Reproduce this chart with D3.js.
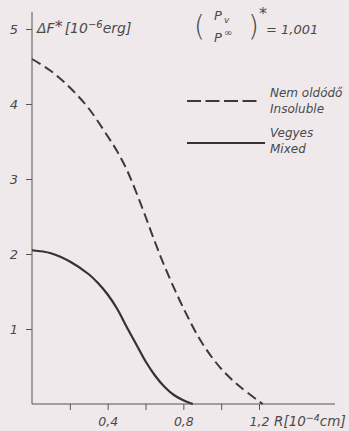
<!DOCTYPE html>
<html><head><meta charset="utf-8">
<script src="https://cdn.jsdelivr.net/npm/d3@7"></script>
<style>
html,body{margin:0;padding:0;background:#efe9ec;}
svg{display:block;}
text{font-family:"DejaVu Sans","Liberation Sans",sans-serif;font-style:italic;fill:#4a4a4a;}
</style></head>
<body>
<svg id="chart" width="349" height="431"></svg>
<script>
// Free energy change vs. radius for two cases
const insolubleData = [[0,4.6],[0.1,4.44],[0.2,4.22],[0.3,3.94],[0.4,3.57],[0.45,3.37],[0.5,3.13],[0.55,2.83],[0.6,2.5],[0.65,2.16],[0.7,1.84],[0.8,1.28],[0.9,0.81],[1.0,0.47],[1.1,0.23],[1.22,0]];
const mixedData = [[0,2.05],[0.1,2.01],[0.2,1.9],[0.3,1.73],[0.35,1.61],[0.4,1.46],[0.45,1.27],[0.5,1.03],[0.55,0.8],[0.6,0.57],[0.65,0.38],[0.7,0.23],[0.75,0.12],[0.8,0.05],[0.85,0]];
const yTicks = [1,2,3,4,5];
const xTicks = [0.2,0.4,0.6,0.8,1.0,1.2];
const xTickLabels = {0.4:"0,4",0.8:"0,8",1.2:"1,2"};

const svg = d3.select("#chart");
const x = d3.scaleLinear().domain([0,1.2]).range([32,259]);
const y = d3.scaleLinear().domain([0,5]).range([404,29]);
const ink = "#555";

// axes
svg.append("line").attr("x1",x(0)).attr("x2",x(0)).attr("y1",12).attr("y2",y(0))
  .attr("stroke",ink).attr("stroke-width",1);
svg.append("line").attr("x1",x(0)).attr("x2",335).attr("y1",y(0)).attr("y2",y(0))
  .attr("stroke",ink).attr("stroke-width",1);

const yAxis = d3.axisLeft(y).tickValues(yTicks).tickSize(6).tickFormat(d3.format("d"));
const gy = svg.append("g").attr("transform",`translate(${x(0)},0)`).call(yAxis);
gy.select(".domain").remove();
gy.selectAll(".tick line").attr("stroke",ink);
gy.selectAll(".tick text").attr("x",-14).attr("font-size",13).attr("fill","#555")
  .style("font-family","DejaVu Sans, sans-serif").style("font-style","italic");

const xAxis = d3.axisBottom(x).tickValues(xTicks).tickSize(6).tickFormat(d => xTickLabels[d] || "");
const gx = svg.append("g").attr("transform",`translate(0,${y(0)})`).call(xAxis);
gx.select(".domain").remove();
gx.selectAll(".tick line").attr("stroke",ink);
gx.selectAll(".tick text").attr("y",13).attr("font-size",12.5).attr("fill","#555")
  .style("font-family","DejaVu Sans, sans-serif").style("font-style","italic");

// axis titles
const yt = svg.append("text").attr("x",37).attr("y",33).attr("font-size",14);
yt.append("tspan").text("ΔF");
yt.append("tspan").text("*").attr("font-size",16).attr("dy",-1);
yt.append("tspan").text("[10").attr("dy",1).attr("dx",2);
yt.append("tspan").text("−6").attr("font-size",10).attr("dy",-5);
yt.append("tspan").text("erg]").attr("dy",5);

const xt = svg.append("text").attr("x",274).attr("y",426).attr("font-size",13.5);
xt.append("tspan").text("R[10");
xt.append("tspan").text("−4").attr("font-size",9.5).attr("dy",-5);
xt.append("tspan").text("cm]").attr("dy",5);

// curves
const line = d3.line().x(d => x(d[0])).y(d => y(d[1])).curve(d3.curveCatmullRom.alpha(0.5));
svg.append("path").datum(insolubleData).attr("d",line).attr("fill","none")
  .attr("stroke","#3a3a3a").attr("stroke-width",2).attr("stroke-dasharray","10,5");
svg.append("path").datum(mixedData).attr("d",line).attr("fill","none")
  .attr("stroke","#333").attr("stroke-width",2.2);

// legend
svg.append("line").attr("x1",187).attr("x2",257).attr("y1",101).attr("y2",101)
  .attr("stroke","#3a3a3a").attr("stroke-width",2).attr("stroke-dasharray","14,4.5");
svg.append("text").attr("x",270).attr("y",97).attr("font-size",12).text("Nem oldódő");
svg.append("text").attr("x",270).attr("y",113).attr("font-size",12).text("Insoluble");
svg.append("line").attr("x1",187).attr("x2",265).attr("y1",143).attr("y2",143)
  .attr("stroke","#333").attr("stroke-width",2.2);
svg.append("text").attr("x",270).attr("y",137).attr("font-size",12).text("Vegyes");
svg.append("text").attr("x",270).attr("y",153).attr("font-size",12).text("Mixed");

// pressure ratio annotation
const f = svg.append("g");
f.append("text").attr("x",194).attr("y",36).attr("font-size",28).style("font-style","normal")
  .attr("font-weight",100).text("(");
f.append("text").attr("x",214).attr("y",20).attr("font-size",13).text("P");
f.append("text").attr("x",224).attr("y",23).attr("font-size",9).text("v");
f.append("text").attr("x",214).attr("y",42).attr("font-size",13).text("P");
f.append("text").attr("x",224).attr("y",36).attr("font-size",10).text("∞");
f.append("text").attr("x",248).attr("y",36).attr("font-size",28).style("font-style","normal")
  .attr("font-weight",100).text(")");
f.append("text").attr("x",259).attr("y",19).attr("font-size",16).text("*");
f.append("text").attr("x",266).attr("y",34).attr("font-size",13).text("= 1,001");
</script>
</body></html>
